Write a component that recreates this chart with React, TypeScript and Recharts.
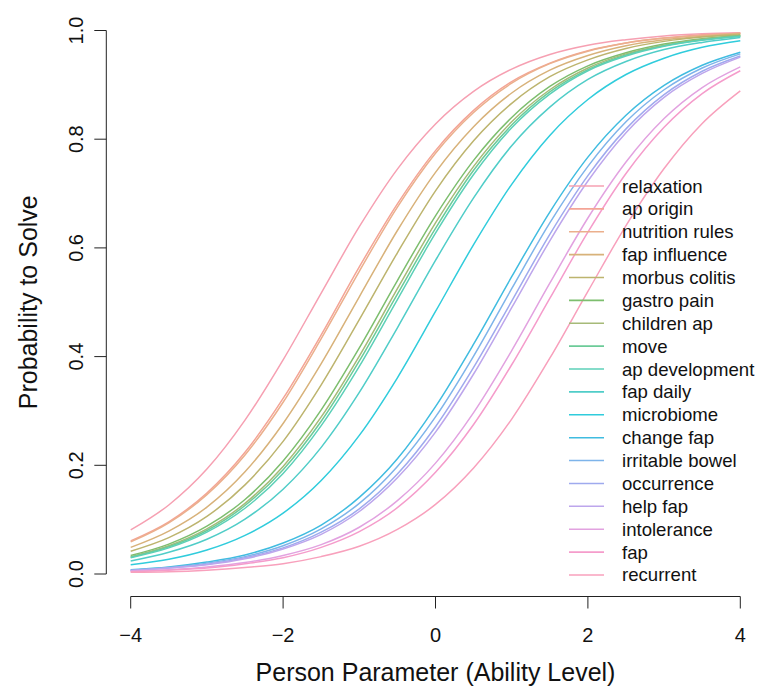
import { Line, LineChart, XAxis, YAxis } from "recharts";

// item characteristic curves at theta = -4 .. 4 (step 0.5)
const theta = [-4, -3.5, -3, -2.5, -2, -1.5, -1, -0.5, 0, 0.5, 1, 1.5, 2, 2.5, 3, 3.5, 4];

const relaxation = [0.081, 0.127, 0.193, 0.283, 0.394, 0.517, 0.639, 0.745, 0.828, 0.888, 0.929, 0.956, 0.973, 0.983, 0.99, 0.994, 0.996];
const apOrigin = [0.061, 0.096, 0.149, 0.224, 0.323, 0.44, 0.565, 0.681, 0.779, 0.853, 0.906, 0.94, 0.963, 0.977, 0.986, 0.992, 0.995];
const nutritionRules = [0.059, 0.094, 0.146, 0.219, 0.316, 0.433, 0.557, 0.675, 0.774, 0.849, 0.903, 0.939, 0.962, 0.977, 0.986, 0.991, 0.995];
const fapInfluence = [0.049, 0.079, 0.123, 0.188, 0.277, 0.387, 0.51, 0.632, 0.739, 0.823, 0.885, 0.927, 0.954, 0.972, 0.983, 0.989, 0.994];
const morbusColitis = [0.042, 0.067, 0.106, 0.164, 0.244, 0.348, 0.468, 0.591, 0.705, 0.797, 0.866, 0.915, 0.946, 0.967, 0.98, 0.988, 0.992];
const gastroPain = [0.034, 0.055, 0.088, 0.137, 0.208, 0.302, 0.416, 0.54, 0.659, 0.761, 0.84, 0.897, 0.935, 0.959, 0.975, 0.985, 0.991];
const childrenAp = [0.032, 0.052, 0.083, 0.13, 0.198, 0.289, 0.401, 0.525, 0.646, 0.75, 0.832, 0.891, 0.931, 0.957, 0.973, 0.984, 0.99];
const move = [0.031, 0.05, 0.08, 0.126, 0.192, 0.281, 0.392, 0.515, 0.636, 0.743, 0.826, 0.887, 0.928, 0.955, 0.972, 0.983, 0.99];
const apDevelopment = [0.03, 0.048, 0.077, 0.121, 0.185, 0.273, 0.382, 0.505, 0.627, 0.735, 0.821, 0.883, 0.926, 0.953, 0.971, 0.982, 0.989];
const fapDaily = [0.024, 0.04, 0.064, 0.101, 0.156, 0.233, 0.334, 0.453, 0.577, 0.692, 0.788, 0.859, 0.91, 0.943, 0.965, 0.978, 0.987];
const microbiome = [0.017, 0.027, 0.044, 0.071, 0.112, 0.172, 0.255, 0.361, 0.483, 0.606, 0.717, 0.807, 0.873, 0.919, 0.949, 0.969, 0.981];
const changeFap = [0.008, 0.013, 0.022, 0.035, 0.057, 0.09, 0.141, 0.212, 0.308, 0.423, 0.547, 0.666, 0.767, 0.844, 0.899, 0.936, 0.96];
const irritableBowel = [0.007, 0.012, 0.02, 0.032, 0.052, 0.083, 0.13, 0.198, 0.289, 0.401, 0.525, 0.646, 0.75, 0.832, 0.891, 0.931, 0.957];
const occurrence = [0.007, 0.011, 0.018, 0.03, 0.048, 0.077, 0.12, 0.184, 0.271, 0.38, 0.502, 0.625, 0.733, 0.819, 0.882, 0.925, 0.953];
const helpFap = [0.006, 0.011, 0.017, 0.028, 0.046, 0.073, 0.115, 0.177, 0.261, 0.368, 0.49, 0.613, 0.723, 0.812, 0.877, 0.921, 0.951];
const intolerance = [0.005, 0.008, 0.013, 0.021, 0.034, 0.054, 0.086, 0.135, 0.204, 0.297, 0.411, 0.535, 0.655, 0.758, 0.838, 0.895, 0.933];
const fap = [0.004, 0.007, 0.011, 0.019, 0.03, 0.049, 0.078, 0.122, 0.187, 0.275, 0.385, 0.507, 0.629, 0.737, 0.822, 0.884, 0.926];
const recurrent = [0.003, 0.004, 0.007, 0.012, 0.019, 0.032, 0.051, 0.082, 0.128, 0.195, 0.285, 0.397, 0.52, 0.641, 0.746, 0.829, 0.889];

const items = [
  { name: "relaxation", values: relaxation },
  { name: "ap origin", values: apOrigin },
  { name: "nutrition rules", values: nutritionRules },
  { name: "fap influence", values: fapInfluence },
  { name: "morbus colitis", values: morbusColitis },
  { name: "gastro pain", values: gastroPain },
  { name: "children ap", values: childrenAp },
  { name: "move", values: move },
  { name: "ap development", values: apDevelopment },
  { name: "fap daily", values: fapDaily },
  { name: "microbiome", values: microbiome },
  { name: "change fap", values: changeFap },
  { name: "irritable bowel", values: irritableBowel },
  { name: "occurrence", values: occurrence },
  { name: "help fap", values: helpFap },
  { name: "intolerance", values: intolerance },
  { name: "fap", values: fap },
  { name: "recurrent", values: recurrent },
];

const xTicks = [-4, -2, 0, 2, 4];
const yTicks = [0, 0.2, 0.4, 0.6, 0.8, 1];

const colors = [
  "#f6a0b2", "#f4a496", "#ebaf8c", "#d8b27a", "#bdb46e", "#7dbe6e",
  "#a6ba78", "#6ccb98", "#5cd0b8", "#50cdc8", "#30ccdc", "#40bce0",
  "#7eb4ea", "#9faaee", "#bda6ec", "#e2a2e0", "#f59ccb", "#f8a0bc",
];

const W = 757;
const H = 686;
const LEFT = 130.7;
const RIGHT = 16.7;
const TOP = 30.5;
const BOTTOM = 112;
const PLOT_W = W - LEFT - RIGHT;
const PLOT_H = H - TOP - BOTTOM;
const FONT = "'Liberation Sans', Arial, Helvetica, sans-serif";

const rows = theta.map((t, i) => {
  const row: Record<string, number> = { theta: t };
  items.forEach((it) => {
    row[it.name] = it.values[i];
  });
  return row;
});

const fmtX = (v: number) => (v < 0 ? "\u2212" + Math.abs(v) : String(v));

function XTick(props: any) {
  const { x, y, payload } = props;
  const axisY = y + 22.5;
  return (
    <g>
      {payload.value === xTicks[0] && (
        <line x1={x} x2={x + PLOT_W} y1={axisY} y2={axisY} stroke="#222" strokeWidth={1} />
      )}
      <line x1={x} x2={x} y1={axisY} y2={axisY + 12} stroke="#222" strokeWidth={1} />
      <text x={x} y={axisY + 38} textAnchor="middle" dominantBaseline="central" fontSize={20} fontFamily={FONT} fill="#111">
        {fmtX(payload.value)}
      </text>
    </g>
  );
}

function YTick(props: any) {
  const { x, y, payload } = props;
  const axisX = x - 24.4;
  return (
    <g>
      {payload.value === yTicks[0] && (
        <line x1={axisX} x2={axisX} y1={y} y2={y - PLOT_H} stroke="#222" strokeWidth={1} />
      )}
      <line x1={axisX} x2={axisX - 12} y1={y} y2={y} stroke="#222" strokeWidth={1} />
      <text
        x={axisX - 30}
        y={y}
        transform={`rotate(-90 ${axisX - 30} ${y})`}
        textAnchor="middle"
        dominantBaseline="central"
        fontSize={20}
        fontFamily={FONT}
        fill="#111"
      >
        {payload.value.toFixed(1)}
      </text>
    </g>
  );
}

function ItemLegend() {
  return (
    <svg width={W} height={H} style={{ position: "absolute", left: 0, top: 0, pointerEvents: "none" }}>
      {items.map((it, i) => {
        const cy = 186 + i * 22.88;
        return (
          <g key={it.name}>
            <line x1={569} x2={604} y1={cy} y2={cy} stroke={colors[i]} strokeWidth={1.6} />
            <text x={622} y={cy} dominantBaseline="central" fontSize={18.6} fontFamily={FONT} fill="#111">
              {it.name}
            </text>
          </g>
        );
      })}
      <text x={LEFT + PLOT_W / 2} y={672} textAnchor="middle" dominantBaseline="central" fontSize={25} fontFamily={FONT} fill="#111">
        Person Parameter (Ability Level)
      </text>
      <text
        x={28}
        y={TOP + PLOT_H / 2}
        transform={`rotate(-90 28 ${TOP + PLOT_H / 2})`}
        textAnchor="middle"
        dominantBaseline="central"
        fontSize={25}
        fontFamily={FONT}
        fill="#111"
      >
        Probability to Solve
      </text>
    </svg>
  );
}

export default function App() {
  return (
    <div style={{ position: "absolute", left: 0, top: 0, width: W, height: H, background: "#fff" }}>
      <LineChart width={W} height={H} data={rows} margin={{ top: TOP, right: RIGHT, bottom: 0, left: 0 }}>
        <XAxis
          dataKey="theta"
          type="number"
          domain={[-4, 4]}
          ticks={xTicks}
          interval={0}
          height={BOTTOM}
          axisLine={false}
          tickLine={false}
          tickSize={0}
          tickMargin={0}
          tick={<XTick />}
        />
        <YAxis
          type="number"
          domain={[0, 1]}
          ticks={yTicks}
          interval={0}
          width={LEFT}
          axisLine={false}
          tickLine={false}
          tickSize={0}
          tickMargin={0}
          tick={<YTick />}
        />
        {items.map((it, i) => (
          <Line
            key={it.name}
            dataKey={it.name}
            type="monotone"
            stroke={colors[i]}
            strokeWidth={1.5}
            dot={false}
            activeDot={false}
            isAnimationActive={false}
          />
        ))}
      </LineChart>
      <ItemLegend />
    </div>
  );
}
